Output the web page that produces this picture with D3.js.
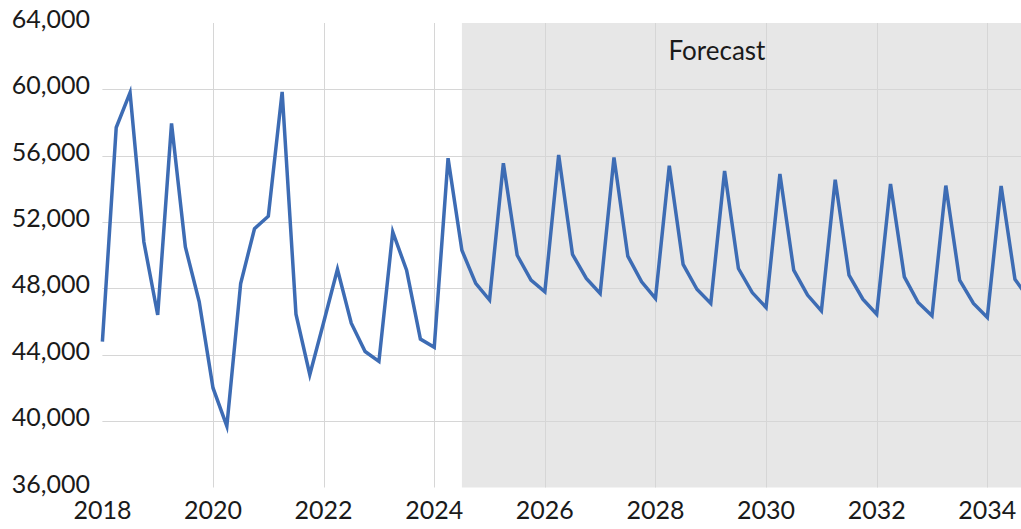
<!DOCTYPE html>
<html>
<head>
<meta charset="utf-8">
<script src="https://cdn.jsdelivr.net/npm/d3@7"></script>
<style>
  html, body { margin: 0; padding: 0; background: #fff; }
  svg { display: block; }
  text { font-family: Lato, "Open Sans", sans-serif; fill: #1a1a1a; }
</style>
</head>
<body>
<svg id="chart" width="1021" height="529"></svg>
<script>
// Quarterly series, first quarter of 2018 onward
const startYear = 2018;
const actualValues = [
  44800, 57700, 59800, 50800, 46400, 57950, 50500, 47200,
  42000, 39700, 48300, 51600, 52350, 59850, 46450, 42800,
  45950, 49150, 45900, 44200, 43600, 51400, 49100, 44950,
  44450, 55850
];
const forecastValues = [
  50300, 48300, 47300, 55550, 50000, 48500, 47800, 56050,
  50050, 48600, 47700, 55900, 49950, 48400, 47400, 55400,
  49450, 47950, 47100, 55080, 49200, 47750, 46850, 54900,
  49100, 47600, 46650, 54550, 48800, 47350, 46450, 54300,
  48700, 47150, 46350, 54200, 48500, 47100, 46250, 54180,
  48550, 47400
];
const forecastStart = 2024.5;
const forecastLabel = "Forecast";
const yTicks = [36000, 40000, 44000, 48000, 52000, 56000, 60000, 64000];
const xTicks = [2018, 2020, 2022, 2024, 2026, 2028, 2030, 2032, 2034];

const W = 1021, H = 529;
const svg = d3.select("#chart");

const x = d3.scaleLinear().domain([2018, 2034]).range([102.4, 987.3]);
const y = d3.scaleLinear().domain([36000, 64000]).range([487.5, 23]);

const series = actualValues.concat(forecastValues)
  .map((v, i) => ({ t: startYear + i / 4, v }));

const plotTop = y(64000), plotBottom = y(36000);

// shaded forecast period
svg.append("rect")
  .attr("x", x(forecastStart))
  .attr("y", plotTop)
  .attr("width", W - x(forecastStart))
  .attr("height", plotBottom - plotTop)
  .attr("fill", "#e7e7e7");

// gridlines
const grid = svg.append("g").attr("stroke", "#d6d6d6").attr("stroke-width", 1);
grid.selectAll("line.h")
  .data(yTicks.filter(d => d > 36000 && d < 64000))
  .join("line")
  .attr("x1", x(2018)).attr("x2", W)
  .attr("y1", d => Math.round(y(d)) + 0.5).attr("y2", d => Math.round(y(d)) + 0.5);
grid.selectAll("line.v")
  .data(xTicks.filter(d => d > 2018))
  .join("line")
  .attr("x1", d => Math.round(x(d)) + 0.5).attr("x2", d => Math.round(x(d)) + 0.5)
  .attr("y1", plotTop).attr("y2", plotBottom);

// series line
const line = d3.line().x(d => x(d.t)).y(d => y(d.v));
svg.append("path")
  .datum(series)
  .attr("fill", "none")
  .attr("stroke", "#3d6cb4")
  .attr("stroke-width", 3.5)
  .attr("stroke-linejoin", "miter")
  .attr("stroke-miterlimit", 6)
  .attr("d", line);

// forecast label
svg.append("text")
  .attr("x", 717)
  .attr("y", 60)
  .attr("text-anchor", "middle")
  .attr("font-size", 26)
  .text(forecastLabel);

// y axis labels
const fmt = d3.format(",");
svg.append("g").selectAll("text")
  .data(yTicks)
  .join("text")
  .attr("x", 90)
  .attr("y", d => y(d) + 5)
  .attr("text-anchor", "end")
  .attr("font-size", 25)
  .text(d => fmt(d));

// x axis labels
svg.append("g").selectAll("text")
  .data(xTicks)
  .join("text")
  .attr("x", d => x(d))
  .attr("y", 519)
  .attr("text-anchor", "middle")
  .attr("font-size", 25)
  .text(d => d);
</script>
</body>
</html>
